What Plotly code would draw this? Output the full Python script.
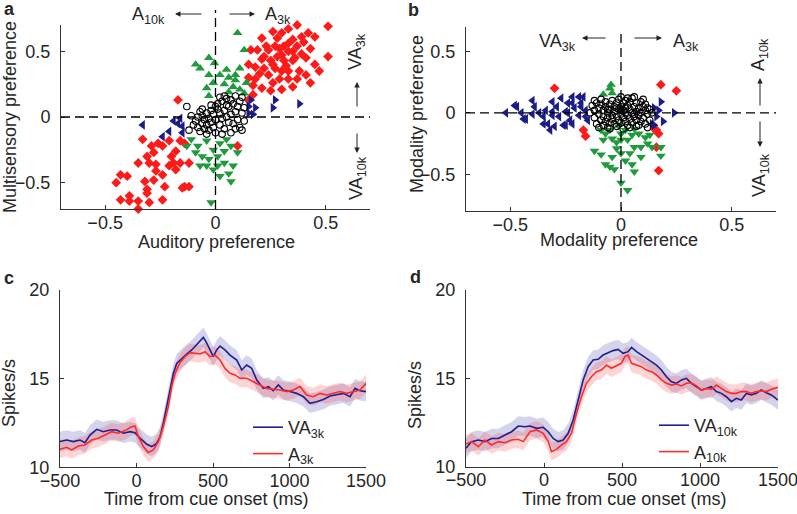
import plotly.graph_objects as go

W, H = 797, 514
FONT = "Liberation Sans, Arial, sans-serif"
TXT = "#262626"

# ---------------- Panel a data ----------------
a_red_x = [0.51,0.37,0.33,0.26,0.30,0.42,0.39,0.45,0.21,0.28,0.35,0.40,0.33,0.23,0.27,0.31,0.37,0.43,0.16,0.19,
           0.24,0.33,0.39,0.30,0.28,0.51,0.41,0.21,0.25,0.31,0.35,0.45,0.15,0.18,0.22,0.27,0.30,0.33,0.38,0.47,
           0.20,0.24,0.41,0.15,0.18,0.29,0.33,0.37,0.26,0.43,0.17,0.21,0.35,0.30,0.25,0.17,0.15,0.36,0.32,0.26,
           0.35,0.29,0.22,
           -0.45,-0.43,-0.40,-0.43,-0.39,-0.39,-0.35,-0.35,-0.35,-0.31,-0.30,-0.32,-0.31,-0.31,-0.30,-0.28,-0.27,
           -0.27,-0.29,-0.28,-0.26,-0.24,-0.24,-0.23,-0.24,-0.21,-0.21,-0.20,-0.18,-0.19,-0.18,-0.16,-0.15,-0.14,
           -0.12,-0.16,-0.14,-0.12,-0.17,0.10,-0.33]
a_red_y = [0.69,0.70,0.67,0.65,0.64,0.64,0.61,0.61,0.60,0.60,0.59,0.57,0.56,0.54,0.54,0.54,0.54,0.52,0.51,0.51,
           0.51,0.50,0.48,0.47,0.46,0.46,0.45,0.44,0.43,0.43,0.43,0.40,0.40,0.38,0.37,0.37,0.35,0.35,0.35,0.35,
           0.33,0.32,0.32,0.30,0.29,0.29,0.29,0.29,0.26,0.26,0.24,0.22,0.23,0.21,0.20,0.17,0.13,0.45,0.39,0.40,
           0.50,0.52,0.46,
           -0.50,-0.44,-0.45,-0.63,-0.60,-0.64,-0.70,-0.64,-0.35,-0.30,-0.35,-0.49,-0.55,-0.58,-0.65,-0.48,-0.41,
           -0.36,-0.22,-0.27,-0.20,-0.22,-0.44,-0.53,-0.63,-0.37,-0.18,-0.30,-0.26,-0.35,-0.40,-0.35,-0.54,-0.53,
           -0.53,-0.18,-0.20,-0.35,0.13,-0.22,-0.17]
a_green_up_x = [0.10,0.13,-0.03,-0.005,-0.07,-0.09,0.05,0.11,-0.03,0.02,0.06,0.09,-0.01,0.04,0.08,-0.04,0.06,0.11,0.13,-0.03,0.14,0.09]
a_green_up_y = [0.64,0.51,0.45,0.41,0.37,0.40,0.36,0.37,0.32,0.32,0.30,0.28,0.26,0.25,0.23,0.22,0.19,0.21,0.18,0.16,0.26,0.32]
a_green_dn_x = [-0.11,-0.08,-0.04,-0.01,0.02,0.05,0.07,-0.06,-0.03,0.01,0.04,-0.07,-0.01,0.06,0.07,0.04,-0.13,-0.09,-0.02,0.08,0.10,0.01,-0.04,0.02]
a_green_dn_y = [-0.17,-0.22,-0.18,-0.25,-0.20,-0.17,-0.22,-0.30,-0.32,-0.30,-0.35,-0.37,-0.40,-0.43,-0.49,-0.26,-0.22,-0.27,-0.65,-0.37,-0.27,-0.37,-0.37,-0.45]
a_blue_r_x = [0.27,0.26,0.38,0.18,0.17,0.15,0.16,0.15]
a_blue_r_y = [0.13,0.07,0.10,0.07,0.02,0.08,0.13,0.03]
a_blue_l_x = [-0.33,-0.24,-0.21,-0.16,-0.15,-0.15,-0.19,-0.17]
a_blue_l_y = [-0.06,-0.15,-0.11,-0.01,-0.07,-0.12,-0.03,-0.05]
a_black_x = [-0.13,-0.11,-0.09,-0.08,-0.07,-0.07,-0.06,-0.06,-0.05,-0.05,-0.04,-0.04,-0.03,-0.03,-0.02,-0.02,-0.01,-0.01,
             0.00,0.00,0.01,0.01,0.02,0.02,0.03,0.03,0.04,0.04,0.05,0.05,0.06,0.06,0.07,0.07,0.08,0.08,0.09,0.09,0.10,
             0.10,0.11,0.11,0.12,0.12,0.13,0.13,-0.10,-0.12,-0.08,-0.04,0.03,0.05,0.07,0.02,0.12,0.09,-0.06,0.00,-0.02,0.04]
a_black_y = [0.08,0.01,-0.03,-0.08,-0.11,0.04,0.01,-0.05,-0.09,-0.02,0.03,-0.06,-0.01,-0.10,0.05,-0.04,-0.08,0.02,
             -0.02,-0.12,0.06,0.10,-0.06,0.03,-0.01,0.12,-0.09,0.05,0.00,0.14,-0.04,0.08,0.02,-0.12,0.10,-0.05,0.04,0.16,-0.02,
             0.08,0.12,-0.08,0.03,0.15,0.07,-0.03,-0.06,-0.10,0.00,-0.13,-0.13,0.09,0.13,0.15,-0.10,-0.09,0.06,0.08,0.09,0.16]

# ---------------- Panel b data ----------------
b_blue_l_x = [-0.52,-0.48,-0.45,-0.44,-0.40,-0.39,-0.37,-0.35,-0.33,-0.32,-0.31,-0.29,-0.28,-0.27,-0.25,-0.24,-0.23,-0.22,
              -0.21,-0.19,-0.19,-0.18,-0.16,-0.22,-0.26,-0.31,-0.34,-0.40,-0.24,-0.47,-0.43,-0.35,-0.30,-0.25,-0.17,-0.22,
              -0.31,-0.18,-0.15,-0.16]
b_blue_l_y = [0.00,0.06,0.00,-0.05,0.10,0.05,0.00,-0.03,-0.09,-0.14,0.09,0.05,-0.03,0.12,0.01,0.08,-0.06,0.13,
              0.04,-0.02,0.13,0.08,0.02,-0.09,-0.10,0.01,0.02,-0.01,0.00,0.05,-0.05,-0.09,-0.11,-0.10,0.13,0.08,
              -0.02,0.05,-0.06,-0.03]
b_blue_r_x = [0.18,0.24,0.19,0.16,0.15,0.15,0.17,0.14]
b_blue_r_y = [0.09,0.00,-0.07,-0.03,0.04,-0.10,0.02,-0.09]
b_red_x = [-0.30,-0.17,-0.16,0.18,0.25,0.16,0.17,0.16,0.17,0.15]
b_red_y = [0.20,-0.14,-0.19,0.23,0.18,-0.14,-0.17,-0.28,-0.47,-0.13]
b_green_up_x = [-0.045,-0.08,-0.04,-0.05]
b_green_up_y = [0.23,0.15,0.16,0.20]
b_green_dn_x = [-0.12,-0.09,-0.07,-0.05,-0.07,-0.04,-0.02,0.00,0.03,0.05,0.08,0.11,0.12,0.09,0.06,0.04,0.02,0.05,
                0.06,0.00,0.03,-0.02,0.00,-0.04,0.09,0.14,0.13,0.18,0.18,-0.01,0.02,-0.05,-0.09,0.06,0.00,-0.03,-0.08]
b_green_dn_y = [-0.31,-0.34,-0.42,-0.44,-0.17,-0.21,-0.24,-0.17,-0.22,-0.18,-0.17,-0.20,-0.25,-0.28,-0.28,-0.33,-0.39,-0.42,
                -0.48,-0.57,-0.63,-0.29,-0.33,-0.36,-0.36,-0.28,-0.18,-0.35,-0.28,-0.11,-0.14,-0.14,-0.14,-0.13,-0.22,-0.46,-0.22]
b_black_x = [-0.13,-0.12,-0.12,-0.11,-0.11,-0.10,-0.10,-0.10,-0.09,-0.09,-0.08,-0.08,-0.08,-0.07,-0.07,-0.07,-0.06,-0.06,
             -0.06,-0.05,-0.05,-0.05,-0.04,-0.04,-0.04,-0.03,-0.03,-0.03,-0.02,-0.02,-0.02,-0.01,-0.01,-0.01,0.00,0.00,
             0.00,0.00,0.01,0.01,0.01,0.02,0.02,0.02,0.03,0.03,0.03,0.04,0.04,0.04,0.05,0.05,0.05,0.06,0.06,0.06,0.07,
             0.07,0.07,0.08,0.08,0.08,0.09,0.09,0.09,0.10,0.10,0.10,0.11,0.11,0.11,0.12,0.12,0.12,0.13,0.13,-0.09,-0.12,
             0.04,-0.05,0.07,0.01,0.14,-0.14,0.03,-0.02,0.02,-0.06,0.06,0.00]
b_black_y = [0.06,0.02,-0.04,0.08,-0.09,0.04,-0.01,-0.12,0.07,-0.06,0.02,-0.03,-0.10,0.09,0.05,-0.07,0.00,-0.04,
             -0.12,0.07,0.03,-0.08,0.10,-0.02,-0.05,0.05,0.01,-0.09,0.08,-0.03,-0.11,0.03,-0.06,0.11,0.13,0.05,
             -0.01,-0.08,0.08,0.02,-0.04,0.10,-0.07,0.00,0.06,-0.02,-0.10,0.03,-0.05,0.09,0.12,0.00,-0.08,0.05,-0.03,0.13,0.08,
             -0.06,0.01,0.04,-0.10,-0.02,0.09,0.00,-0.07,0.11,0.05,-0.04,0.02,-0.09,0.07,-0.01,0.04,-0.12,0.03,-0.06,0.11,0.10,
             -0.12,-0.13,-0.11,-0.13,0.00,0.00,0.12,0.04,0.04,0.03,-0.01,0.02]

# ---------------- Panel c data ----------------
c_va_t = [-500,-456,-413,-369,-337,-304,-260,-217,-173,-130,-86,-42,-10,23,67,99,132,154,175,197,219,241,263,295,328,
          361,393,415,437,459,480,502,524,546,578,611,655,688,720,753,786,829,862,894,927,960,1003,1047,1091,1134,1178,
          1221,1265,1309,1352,1396,1428,1461,1500]
c_va_y = [11.45,11.54,11.45,11.54,11.39,11.82,12.14,12.01,12.10,12.10,11.92,12.01,11.95,11.64,11.30,11.17,11.35,11.73,
          12.48,13.42,14.36,15.30,15.86,16.15,16.39,16.62,16.90,17.09,17.33,17.00,16.62,16.24,16.62,16.84,16.62,16.33,
          16.05,15.49,15.77,15.58,14.92,14.45,14.55,14.32,14.64,14.36,14.27,14.17,13.98,13.61,13.70,13.83,14.02,14.08,
          14.17,13.98,14.45,14.32,14.27]
c_a_t = [-500,-456,-424,-380,-337,-293,-250,-206,-162,-119,-75,-32,-10,12,45,77,110,143,175,208,230,252,284,317,
         350,382,415,448,480,513,546,578,611,644,677,720,764,807,851,895,938,982,1025,1069,1112,1156,1200,1243,1287,
         1330,1374,1418,1461,1500]
c_a_y = [11.02,11.13,10.98,11.20,11.26,11.54,11.64,11.82,12.01,11.92,12.07,12.29,12.33,11.73,11.17,10.83,10.98,11.45,
         12.29,13.42,14.55,15.30,15.90,16.24,16.47,16.43,16.39,16.52,16.24,16.33,16.05,15.58,15.30,15.21,15.02,15.02,
         14.83,14.64,14.45,14.40,14.36,14.27,14.36,14.55,14.08,13.98,14.17,14.08,14.17,14.27,14.17,14.27,14.36,14.74]
c_va_sem = 0.55
c_a_sem = 0.5

# ---------------- Panel d data ----------------
d_va_t = [-500,-464,-421,-378,-336,-293,-250,-208,-165,-122,-90,-47,-5,27,59,91,123,155,187,219,251,283,315,347,379,
          411,443,475,507,539,561,593,625,657,689,721,753,785,817,849,881,913,945,977,1009,1041,1073,1105,1137,1169,
          1201,1233,1265,1297,1329,1361,1393,1425,1457,1500]
d_va_y = [11.04,11.42,11.51,11.42,11.60,11.60,11.79,11.98,12.30,12.26,12.30,12.17,12.23,11.98,11.60,11.42,11.51,11.89,
          12.64,13.77,14.91,15.66,16.04,16.08,16.32,16.45,16.57,16.64,16.42,16.51,16.75,16.51,16.32,16.13,15.94,15.75,
          15.47,15.09,14.81,14.72,14.91,15.00,14.72,14.53,14.34,14.43,14.53,14.25,14.15,13.96,13.68,13.87,13.77,14.15,
          14.06,14.15,14.34,14.19,14.06,13.77]
d_a_t = [-500,-464,-421,-378,-336,-293,-250,-208,-165,-133,-90,-47,-5,27,48,80,112,144,176,208,240,272,304,336,368,
         400,432,464,496,518,539,561,593,625,657,689,721,753,785,817,849,881,913,945,977,1009,1041,1073,1105,1137,1169,
         1201,1233,1265,1297,1329,1361,1393,1425,1457,1500]
d_a_y = [11.28,11.42,11.13,11.51,11.23,11.42,11.36,11.51,11.55,11.42,11.98,12.08,11.89,11.42,10.85,10.98,11.23,11.42,
         11.89,13.02,13.96,14.72,15.09,15.38,15.47,15.75,15.57,15.70,15.85,16.23,16.32,15.85,15.75,15.66,15.47,15.38,
         15.19,14.91,14.72,14.62,14.68,14.57,14.72,14.75,14.57,14.34,14.43,14.38,14.62,14.43,14.25,14.15,14.15,14.25,
         14.25,14.15,14.25,14.30,14.25,14.38,14.49]
d_va_sem = 0.55
d_a_sem = 0.5

RED = "#ff1a1a"
GREEN = "#1f9a3c"
NAVY = "#1c1c86"
BLUE_LINE = "#1f1f8f"
RED_LINE = "#ff2a2a"

fig = go.Figure()


def px_dom_x(x0, x1):
    return [x0 / W, x1 / W]


def px_dom_y(y_top, y_bot):
    return [1 - y_bot / H, 1 - y_top / H]


dom = {
    "a": (px_dom_x(61, 370), px_dom_y(25, 209)),
    "b": (px_dom_x(466, 776), px_dom_y(27, 211)),
    "c": (px_dom_x(60, 366), px_dom_y(290, 467.3)),
    "d": (px_dom_x(466, 778), px_dom_y(290, 466.7)),
}


def scat(x, y, sym, color, size, xa, ya, open_=False):
    if open_:
        mk = dict(symbol=sym, size=size, color="rgba(0,0,0,0)", line=dict(color=color, width=1.1))
    else:
        mk = dict(symbol=sym, size=size, color=color, line=dict(width=0))
    fig.add_trace(go.Scatter(x=x, y=y, mode="markers", marker=mk, xaxis=xa, yaxis=ya,
                             showlegend=False, hoverinfo="skip", cliponaxis=False))


# panel a
scat(a_red_x, a_red_y, "diamond", RED, 7.5, "x", "y")
scat(a_green_up_x, a_green_up_y, "triangle-up", GREEN, 8.5, "x", "y")
scat(a_green_dn_x, a_green_dn_y, "triangle-down", GREEN, 8.5, "x", "y")
scat(a_blue_r_x, a_blue_r_y, "triangle-right", NAVY, 8.5, "x", "y")
scat(a_blue_l_x, a_blue_l_y, "triangle-left", NAVY, 8.5, "x", "y")
scat(a_black_x, a_black_y, "circle", "black", 6.5, "x", "y", open_=True)

# panel b
scat(b_red_x, b_red_y, "diamond", RED, 7.5, "x2", "y2")
scat(b_blue_l_x, b_blue_l_y, "triangle-left", NAVY, 8.5, "x2", "y2")
scat(b_blue_r_x, b_blue_r_y, "triangle-right", NAVY, 8.5, "x2", "y2")
scat(b_green_up_x, b_green_up_y, "triangle-up", GREEN, 8.5, "x2", "y2")
scat(b_green_dn_x, b_green_dn_y, "triangle-down", GREEN, 8.5, "x2", "y2")
scat(b_black_x, b_black_y, "circle", "black", 6.5, "x2", "y2", open_=True)


def band(t, y, sem, fillc, xa, ya):
    up = [v + sem for v in y]
    lo = [v - sem for v in y]
    fig.add_trace(go.Scatter(x=list(t) + list(t)[::-1], y=up + lo[::-1], fill="toself",
                             fillcolor=fillc, line=dict(width=0), mode="lines",
                             xaxis=xa, yaxis=ya, showlegend=False, hoverinfo="skip"))


BAND_B = "rgba(60,60,170,0.22)"
BAND_R = "rgba(255,60,60,0.22)"

band(c_va_t, c_va_y, c_va_sem, BAND_B, "x3", "y3")
band(c_a_t, c_a_y, c_a_sem, BAND_R, "x3", "y3")
fig.add_trace(go.Scatter(x=c_va_t, y=c_va_y, mode="lines", line=dict(color=BLUE_LINE, width=1.6),
                         xaxis="x3", yaxis="y3", name="VA<sub>3k</sub>", legend="legend"))
fig.add_trace(go.Scatter(x=c_a_t, y=c_a_y, mode="lines", line=dict(color=RED_LINE, width=1.6),
                         xaxis="x3", yaxis="y3", name="A<sub>3k</sub>", legend="legend"))

band(d_va_t, d_va_y, d_va_sem, BAND_B, "x4", "y4")
band(d_a_t, d_a_y, d_a_sem, BAND_R, "x4", "y4")
fig.add_trace(go.Scatter(x=d_va_t, y=d_va_y, mode="lines", line=dict(color=BLUE_LINE, width=1.6),
                         xaxis="x4", yaxis="y4", name="VA<sub>10k</sub>", legend="legend2"))
fig.add_trace(go.Scatter(x=d_a_t, y=d_a_y, mode="lines", line=dict(color=RED_LINE, width=1.6),
                         xaxis="x4", yaxis="y4", name="A<sub>10k</sub>", legend="legend2"))

axbase = dict(showline=True, linecolor="#333333", linewidth=1, ticks="inside", ticklen=4,
              tickcolor="#333333", showgrid=False, zeroline=False, automargin=False,
              ticklabeloverflow="allow",
              tickfont=dict(family=FONT, size=18, color=TXT))
XSO = -3
YSO = 6

fig.update_layout(
    width=W, height=H, margin=dict(l=0, r=0, t=0, b=0),
    paper_bgcolor="white", plot_bgcolor="white",
    font=dict(family=FONT, size=18, color=TXT),
    xaxis=dict(axbase, domain=dom["a"][0], range=[-0.7, 0.7], tickvals=[-0.5, 0, 0.5], anchor="y", ticklabelstandoff=XSO),
    yaxis=dict(axbase, domain=dom["a"][1], range=[-0.7, 0.7], tickvals=[-0.5, 0, 0.5], anchor="x", ticklabelstandoff=YSO),
    xaxis2=dict(axbase, domain=dom["b"][0], range=[-0.7, 0.7], tickvals=[-0.5, 0, 0.5], anchor="y2", ticklabelstandoff=XSO),
    yaxis2=dict(axbase, domain=dom["b"][1], range=[-0.8, 0.7], tickvals=[-0.5, 0, 0.5], anchor="x2", ticklabelstandoff=YSO),
    xaxis3=dict(axbase, domain=dom["c"][0], range=[-500, 1500], tickvals=[-500, 0, 500, 1000, 1500], anchor="y3", ticklabelstandoff=XSO),
    yaxis3=dict(axbase, domain=dom["c"][1], range=[10, 20], tickvals=[10, 15, 20], anchor="x3", ticklabelstandoff=YSO),
    xaxis4=dict(axbase, domain=dom["d"][0], range=[-500, 1500], tickvals=[-500, 0, 500, 1000, 1500], anchor="y4", ticklabelstandoff=XSO),
    yaxis4=dict(axbase, domain=dom["d"][1], range=[10, 20], tickvals=[10, 15, 20], anchor="x4", ticklabelstandoff=YSO),
    legend=dict(x=248 / W, y=1 - 409 / H, xanchor="left", yanchor="top", bgcolor="rgba(0,0,0,0)",
                font=dict(family=FONT, size=18, color=TXT), tracegroupgap=0, itemwidth=30),
    legend2=dict(x=654 / W, y=1 - 407 / H, xanchor="left", yanchor="top", bgcolor="rgba(0,0,0,0)",
                 font=dict(family=FONT, size=18, color=TXT), tracegroupgap=0, itemwidth=30),
)


def xpaper(panel, xv, rng):
    d = dom[panel][0]
    return d[0] + (xv - rng[0]) / (rng[1] - rng[0]) * (d[1] - d[0])


def ypaper(panel, yv, rng):
    d = dom[panel][1]
    return d[0] + (yv - rng[0]) / (rng[1] - rng[0]) * (d[1] - d[0])


DASH = "9px,5px"
shapes = []
xa0 = xpaper("a", 0, [-0.7, 0.7])
shapes.append(dict(type="line", xref="paper", yref="paper", x0=xa0, x1=xa0, y0=dom["a"][1][0], y1=1 - 10 / H,
                   line=dict(color="black", width=1.3, dash=DASH)))
ya0 = ypaper("a", 0, [-0.7, 0.7])
shapes.append(dict(type="line", xref="paper", yref="paper", x0=dom["a"][0][0], x1=dom["a"][0][1], y0=ya0, y1=ya0,
                   line=dict(color="black", width=1.3, dash=DASH)))
xb0 = xpaper("b", 0, [-0.7, 0.7])
shapes.append(dict(type="line", xref="paper", yref="paper", x0=xb0, x1=xb0, y0=dom["b"][1][0], y1=1 - 30 / H,
                   line=dict(color="black", width=1.3, dash=DASH)))
yb0 = ypaper("b", 0, [-0.8, 0.7])
shapes.append(dict(type="line", xref="paper", yref="paper", x0=dom["b"][0][0], x1=dom["b"][0][1], y0=yb0, y1=yb0,
                   line=dict(color="black", width=1.3, dash=DASH)))
fig.update_layout(shapes=shapes)

ann = []


def txt(x, y, s, size=18, angle=0, bold=False):
    if bold:
        s = "<b>" + s + "</b>"
    ann.append(dict(x=x / W, y=1 - y / H, xref="paper", yref="paper", text=s, showarrow=False,
                    textangle=angle, font=dict(family=FONT, size=size, color=TXT),
                    xanchor="center", yanchor="middle"))


def arrow(xh, yh, xt, yt):
    ann.append(dict(x=xh / W, y=1 - yh / H, xref="paper", yref="paper", text="", showarrow=True,
                    ax=xt - xh, ay=yt - yh, axref="pixel", ayref="pixel",
                    arrowhead=2, arrowsize=1.1, arrowwidth=1, arrowcolor="#222222", standoff=0, startstandoff=0))


txt(9, 9, "a", 18, bold=True)
txt(414, 10, "b", 18, bold=True)
txt(9, 278, "c", 18, bold=True)
txt(415, 277, "d", 18, bold=True)

txt(216, 242, "Auditory preference")
txt(10, 117, "Multisensory preference", angle=-90)
txt(619, 240, "Modality preference")
txt(417, 114, "Modality preference", angle=-90)
txt(206, 499, "Time from cue onset (ms)")
txt(9, 393, "Spikes/s", angle=-90)
txt(624, 499, "Time from cue onset (ms)")
txt(415, 395, "Spikes/s", angle=-90)

txt(148, 15, "A<sub>10k</sub>")
arrow(175, 14, 203, 14)
arrow(255, 14, 228, 14)
txt(278, 15, "A<sub>3k</sub>")
txt(357, 52, "VA<sub>3k</sub>", angle=-90)
arrow(357, 82, 357, 108)
arrow(357, 153, 357, 132)
txt(357, 178, "VA<sub>10k</sub>", angle=-90)

txt(557, 42, "VA<sub>3k</sub>")
arrow(582, 38, 607, 38)
arrow(662, 38, 633, 38)
txt(686, 42, "A<sub>3k</sub>")
txt(760, 55, "A<sub>10k</sub>", angle=-90)
arrow(760, 78, 760, 107)
arrow(760, 147, 760, 120)
txt(760, 175, "VA<sub>10k</sub>", angle=-90)

fig.update_layout(annotations=ann)

fig.write_html("out.html", config={"displayModeBar": False},
               post_script="document.body.style.margin='0';document.body.style.overflow='hidden';")
